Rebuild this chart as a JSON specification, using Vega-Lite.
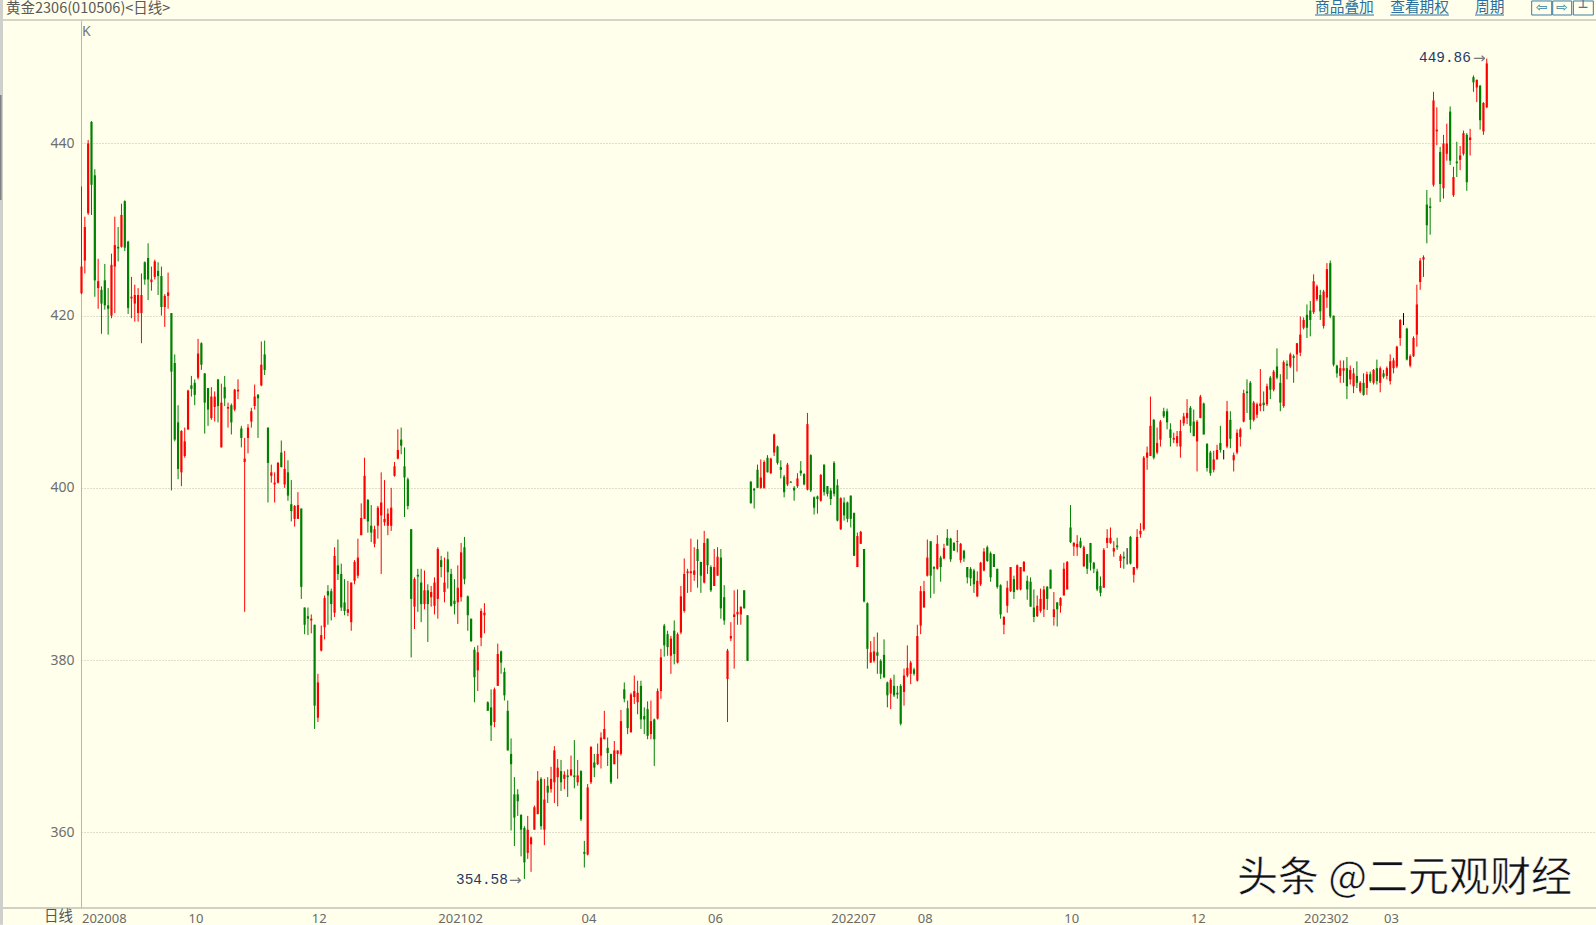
{"$schema":"https://vega.github.io/schema/vega-lite/v6.json","width":1515,"height":888,"autosize":{"type":"none"},"padding":{"left":81,"top":20,"right":0,"bottom":17},"background":"#FFFFEC","config":{"view":{"stroke":null},"scale":{"continuousPadding":0}},
"data":{"values":[
{"i":0,"o":422.6,"h":435,"l":422.5,"c":425.7},{"i":1,"o":426.4,"h":431.5,"l":424.9,"c":430.3},{"i":2,"o":431.9,"h":440.4,"l":431.7,"c":440},{"i":3,"o":442.5,"h":442.6,"l":431.7,"c":435.2},{"i":4,"o":436.3,"h":437,"l":422.2,"c":424.1},{"i":5,"o":423.2,"h":426.6,"l":420.8,"c":424},{"i":6,"o":423,"h":423.4,"l":417.9,"c":421.4},{"i":7,"o":424.1,"h":426,"l":420.7,"c":421.2},{"i":8,"o":421.2,"h":423.2,"l":417.8,"c":420.8},{"i":9,"o":420,"h":427.2,"l":419.7,"c":425.9},
{"i":10,"o":425.7,"h":431.5,"l":420.3,"c":428.2},{"i":11,"o":428,"h":430.3,"l":426.3,"c":427.8},{"i":12,"o":428,"h":433,"l":427.9,"c":431.7},{"i":13,"o":433.3,"h":433.4,"l":427.5,"c":427.9},{"i":14,"o":428.6,"h":428.7,"l":420.2,"c":420.9},{"i":15,"o":422,"h":424.5,"l":419.7,"c":422.2},{"i":16,"o":421.4,"h":423.6,"l":419.3,"c":422.4},{"i":17,"o":420.3,"h":423.2,"l":419.3,"c":422.4},{"i":18,"o":420.3,"h":424.9,"l":416.8,"c":422.4},{"i":19,"o":426.2,"h":426.3,"l":423.6,"c":424.2},
{"i":20,"o":426.7,"h":428.4,"l":421.8,"c":424.2},{"i":21,"o":423.9,"h":425.7,"l":422.9,"c":424.2},{"i":22,"o":424.5,"h":426.5,"l":424.2,"c":426.3},{"i":23,"o":425.2,"h":426.2,"l":422.4,"c":424.6},{"i":24,"o":424.6,"h":425.7,"l":420,"c":421},{"i":25,"o":421,"h":422.5,"l":418.7,"c":422.3},{"i":26,"o":422.3,"h":425,"l":420.8,"c":422.7},{"i":27,"o":420.3,"h":420.3,"l":399.7,"c":413.5},{"i":28,"o":414.5,"h":415.5,"l":405.4,"c":405.6},{"i":29,"o":407.6,"h":409.6,"l":401,"c":402.2},
{"i":30,"o":401.8,"h":406.7,"l":400.2,"c":406.6},{"i":31,"o":403.7,"h":407,"l":403.5,"c":405.4},{"i":32,"o":406.8,"h":411.4,"l":406.7,"c":411.3},{"i":33,"o":411.9,"h":413,"l":410.6,"c":411.5},{"i":34,"o":412.2,"h":412.6,"l":409.6,"c":410.8},{"i":35,"o":412.8,"h":417.3,"l":412.6,"c":415.6},{"i":36,"o":416.8,"h":416.9,"l":413.7,"c":414.3},{"i":37,"o":413.3,"h":413.3,"l":406.3,"c":409.9},{"i":38,"o":411.6,"h":411.6,"l":407.2,"c":409.1},{"i":39,"o":408.1,"h":411.7,"l":407.9,"c":410.6},
{"i":40,"o":409.4,"h":411.2,"l":407.7,"c":410.6},{"i":41,"o":412.6,"h":412.6,"l":407.6,"c":409.5},{"i":42,"o":404.7,"h":412.1,"l":404.7,"c":409.9},{"i":43,"o":411.7,"h":413,"l":409.5,"c":410.4},{"i":44,"o":409.2,"h":409.9,"l":407,"c":409.4},{"i":45,"o":409.6,"h":409.8,"l":406.2,"c":407.6},{"i":46,"o":409.1,"h":411.5,"l":408.9,"c":411.4},{"i":47,"o":411.2,"h":412.6,"l":410.3,"c":411.4},{"i":48,"o":406.9,"h":407.2,"l":404.7,"c":405.8},{"i":49,"o":403,"h":405.8,"l":385.6,"c":403.4},
{"i":50,"o":405.8,"h":407.4,"l":404,"c":407},{"i":51,"o":407.7,"h":409.3,"l":407,"c":408.9},{"i":52,"o":409.5,"h":412,"l":409.1,"c":410.6},{"i":53,"o":410.8,"h":410.9,"l":405.8,"c":410.4},{"i":54,"o":411.9,"h":417,"l":411.8,"c":414.3},{"i":55,"o":415.5,"h":417.1,"l":413.1,"c":413.7},{"i":56,"o":407,"h":407,"l":398.3,"c":402.9},{"i":57,"o":401.4,"h":402.7,"l":400.6,"c":401.8},{"i":58,"o":400.4,"h":401.8,"l":398.3,"c":400.6},{"i":59,"o":400.6,"h":403,"l":400.5,"c":402.9},
{"i":60,"o":404.1,"h":405.5,"l":402.4,"c":402.4},{"i":61,"o":400.4,"h":404.3,"l":400,"c":402.2},{"i":62,"o":401.8,"h":403.2,"l":398.5,"c":399.1},{"i":63,"o":398.1,"h":400.9,"l":396.1,"c":397.3},{"i":64,"o":396.4,"h":398,"l":395.5,"c":397.9},{"i":65,"o":396.4,"h":399.5,"l":396.4,"c":398},{"i":66,"o":397.6,"h":397.6,"l":387.1,"c":388.5},{"i":67,"o":386.1,"h":386.1,"l":383,"c":384.1},{"i":68,"o":385.1,"h":386.1,"l":382.9,"c":384.8},{"i":69,"o":384.6,"h":385.3,"l":383.1,"c":384.8},
{"i":70,"o":384.1,"h":384.1,"l":372,"c":374.7},{"i":71,"o":373.3,"h":378.4,"l":372.8,"c":377.4},{"i":72,"o":381.1,"h":384,"l":381,"c":382.9},{"i":73,"o":383.8,"h":387.5,"l":382.4,"c":387.2},{"i":74,"o":388,"h":388.7,"l":384.1,"c":387.5},{"i":75,"o":388,"h":388.3,"l":384.6,"c":386.5},{"i":76,"o":385.5,"h":393.1,"l":385,"c":392.1},{"i":77,"o":391,"h":394,"l":389.3,"c":390},{"i":78,"o":390,"h":391.2,"l":385.7,"c":386.1},{"i":79,"o":386.7,"h":389.4,"l":385.2,"c":385.7},
{"i":80,"o":385.5,"h":389.2,"l":385.1,"c":385.9},{"i":81,"o":384.4,"h":389,"l":383.4,"c":389},{"i":82,"o":389.2,"h":391.6,"l":388.8,"c":391.4},{"i":83,"o":389.8,"h":394.1,"l":389.5,"c":391.9},{"i":84,"o":394.5,"h":398.2,"l":394.5,"c":396.5},{"i":85,"o":396.4,"h":403.5,"l":396.4,"c":401.4},{"i":86,"o":398.6,"h":398.7,"l":394.8,"c":396.1},{"i":87,"o":395.6,"h":398,"l":393.7,"c":394.8},{"i":88,"o":393.5,"h":395.6,"l":393.1,"c":395.2},{"i":89,"o":395.6,"h":397.9,"l":394.1,"c":397.7},
{"i":90,"o":396.8,"h":401.8,"l":390,"c":398.3},{"i":91,"o":396,"h":400.9,"l":395.6,"c":396.4},{"i":92,"o":395.6,"h":397.6,"l":394.5,"c":397},{"i":93,"o":395.6,"h":400,"l":395,"c":397.7},{"i":94,"o":401.4,"h":403,"l":401.3,"c":402.5},{"i":95,"o":403.4,"h":406.8,"l":403.3,"c":404.4},{"i":96,"o":405.6,"h":407,"l":403.9,"c":404.9},{"i":97,"o":402.5,"h":404.7,"l":396.6,"c":401.2},{"i":98,"o":401,"h":401.2,"l":397.5,"c":397.9},{"i":99,"o":395.2,"h":395.2,"l":380.3,"c":387.1},
{"i":100,"o":386.2,"h":389.6,"l":383.6,"c":389.4},{"i":101,"o":389.9,"h":390.6,"l":385.6,"c":389.7},{"i":102,"o":389,"h":390.6,"l":384.4,"c":386.5},{"i":103,"o":386.5,"h":390.4,"l":385.9,"c":388.1},{"i":104,"o":388.1,"h":388.8,"l":382.1,"c":386.5},{"i":105,"o":387.3,"h":388.6,"l":386.2,"c":387.9},{"i":106,"o":386.3,"h":389.6,"l":385.3,"c":389},{"i":107,"o":387.1,"h":393.1,"l":384.8,"c":392.9},{"i":108,"o":391.6,"h":392.1,"l":389.6,"c":390.8},{"i":109,"o":387.9,"h":391.9,"l":386.7,"c":389},
{"i":110,"o":391.7,"h":392.6,"l":388.3,"c":390.2},{"i":111,"o":390,"h":390.6,"l":386.2,"c":386.3},{"i":112,"o":386.9,"h":389.4,"l":385.3,"c":386.5},{"i":113,"o":386.7,"h":391,"l":384.2,"c":388.4},{"i":114,"o":387.3,"h":393.6,"l":386.8,"c":392.5},{"i":115,"o":393.1,"h":394.3,"l":388.8,"c":389.4},{"i":116,"o":387.4,"h":387.5,"l":383.4,"c":385.2},{"i":117,"o":384.8,"h":384.8,"l":382.1,"c":382.2},{"i":118,"o":381.2,"h":381.5,"l":375.1,"c":378},{"i":119,"o":378.8,"h":381.7,"l":376.4,"c":380.9},
{"i":120,"o":382.6,"h":386,"l":381.6,"c":385.7},{"i":121,"o":385.2,"h":386.6,"l":383.1,"c":385.5},{"i":122,"o":375.1,"h":375.2,"l":374.1,"c":374.1},{"i":123,"o":374.5,"h":376.6,"l":370.6,"c":372.4},{"i":124,"o":372.8,"h":376.8,"l":372.2,"c":376.6},{"i":125,"o":377,"h":381.9,"l":377,"c":380.7},{"i":126,"o":381,"h":381.1,"l":378.4,"c":379.7},{"i":127,"o":378.6,"h":379.1,"l":375.3,"c":375.9},{"i":128,"o":374.1,"h":375.3,"l":369.5,"c":369.5},{"i":129,"o":369.1,"h":370.9,"l":360.2,"c":367.9},
{"i":130,"o":364.4,"h":366.4,"l":358.4,"c":361.7},{"i":131,"o":364.4,"h":365,"l":361.9,"c":363.6},{"i":132,"o":362,"h":362.1,"l":357.2,"c":360.3},{"i":133,"o":360.5,"h":360.7,"l":354.58,"c":356.5},{"i":134,"o":357.6,"h":361.9,"l":356.9,"c":360.3},{"i":135,"o":358.6,"h":359.5,"l":355.4,"c":359.4},{"i":136,"o":360.3,"h":363.1,"l":360.3,"c":362.9},{"i":137,"o":362.1,"h":367.1,"l":362.1,"c":366},{"i":138,"o":366.2,"h":366.4,"l":360.3,"c":360.7},{"i":139,"o":360.3,"h":366.2,"l":358.5,"c":363.8},
{"i":140,"o":365.4,"h":366.4,"l":363.4,"c":364.6},{"i":141,"o":365,"h":367.6,"l":364.6,"c":366.2},{"i":142,"o":365.8,"h":370,"l":363.4,"c":369.5},{"i":143,"o":366.4,"h":368.5,"l":363,"c":367.5},{"i":144,"o":367.1,"h":368.4,"l":364.8,"c":365.8},{"i":145,"o":366.2,"h":367.1,"l":365,"c":366.7},{"i":146,"o":366.6,"h":367.3,"l":364.1,"c":366.4},{"i":147,"o":366.6,"h":368.9,"l":366.5,"c":367.3},{"i":148,"o":366.6,"h":370.7,"l":365.1,"c":366.4},{"i":149,"o":365.8,"h":368.4,"l":365.4,"c":366.6},
{"i":150,"o":367.1,"h":367.2,"l":361.3,"c":361.5},{"i":151,"o":357.7,"h":359,"l":355.9,"c":357.5},{"i":152,"o":357.4,"h":365.6,"l":357.3,"c":365.2},{"i":153,"o":365.8,"h":370,"l":365.6,"c":369.9},{"i":154,"o":368.1,"h":369.1,"l":366.4,"c":367.5},{"i":155,"o":367.9,"h":370.3,"l":367.8,"c":369.1},{"i":156,"o":368.9,"h":371.6,"l":367.4,"c":371},{"i":157,"o":370.8,"h":374.1,"l":370.8,"c":372},{"i":158,"o":369.8,"h":371,"l":367.7,"c":369.2},{"i":159,"o":369.1,"h":369.1,"l":365.6,"c":365.8},
{"i":160,"o":367.9,"h":370.6,"l":367.9,"c":369.5},{"i":161,"o":369.1,"h":369.5,"l":366.2,"c":369.5},{"i":162,"o":369.1,"h":374.2,"l":368.9,"c":372.9},{"i":163,"o":376.6,"h":377.4,"l":375.1,"c":375.5},{"i":164,"o":374.4,"h":375.3,"l":371.4,"c":372.1},{"i":165,"o":371.6,"h":376.2,"l":371.6,"c":376},{"i":166,"o":375.7,"h":378.2,"l":374.9,"c":376.4},{"i":167,"o":375.1,"h":377.6,"l":373.7,"c":376.2},{"i":168,"o":377,"h":377.6,"l":372,"c":373.1},{"i":169,"o":373.5,"h":374.5,"l":371.4,"c":373.1},
{"i":170,"o":374.3,"h":375.2,"l":370.8,"c":371.2},{"i":171,"o":371.4,"h":375.3,"l":370.8,"c":372.9},{"i":172,"o":373.1,"h":373.2,"l":367.7,"c":370.8},{"i":173,"o":373.2,"h":376.7,"l":373.1,"c":376.4},{"i":174,"o":376.4,"h":381.3,"l":375.5,"c":380.3},{"i":175,"o":384,"h":384.2,"l":380.4,"c":381.7},{"i":176,"o":383,"h":383.4,"l":380.5,"c":381.5},{"i":177,"o":380.5,"h":382.8,"l":378.4,"c":382.5},{"i":178,"o":383.4,"h":384.6,"l":379.5,"c":380.7},{"i":179,"o":379.7,"h":383.2,"l":379.6,"c":383},
{"i":180,"o":383.2,"h":388.6,"l":383,"c":387.4},{"i":181,"o":385.7,"h":391.8,"l":385.5,"c":390},{"i":182,"o":390.1,"h":390.6,"l":387.8,"c":390.3},{"i":183,"o":390.1,"h":394.1,"l":387.9,"c":390.3},{"i":184,"o":389.9,"h":393.1,"l":389.2,"c":390.4},{"i":185,"o":392.9,"h":394,"l":388.4,"c":391.5},{"i":186,"o":391.4,"h":391.4,"l":387.8,"c":389.8},{"i":187,"o":389,"h":395,"l":388.9,"c":393.6},{"i":188,"o":394.1,"h":394.1,"l":390,"c":391},{"i":189,"o":390.8,"h":391,"l":387.9,"c":388.1},
{"i":190,"o":388.6,"h":392.9,"l":388.6,"c":390.8},{"i":191,"o":389.8,"h":393.1,"l":389.8,"c":392},{"i":192,"o":391.9,"h":392.9,"l":384.8,"c":386},{"i":193,"o":387.3,"h":388.7,"l":384.1,"c":384.6},{"i":194,"o":377.8,"h":381.3,"l":372.8,"c":381.1},{"i":195,"o":382.5,"h":384.4,"l":382.2,"c":382.8},{"i":196,"o":385,"h":388.1,"l":379,"c":385.3},{"i":197,"o":385.3,"h":388.2,"l":384.1,"c":385.6},{"i":198,"o":385.3,"h":386.2,"l":384.1,"c":386.2},{"i":199,"o":388.1,"h":388.1,"l":386,"c":386},
{"i":200,"o":385.2,"h":385.2,"l":379.9,"c":379.9},{"i":201,"o":400.7,"h":400.8,"l":398.2,"c":398.2},{"i":202,"o":399.9,"h":400,"l":397.6,"c":399.7},{"i":203,"o":402.1,"h":402.7,"l":400,"c":400},{"i":204,"o":400,"h":403.3,"l":399.9,"c":401.2},{"i":205,"o":400,"h":403.2,"l":399.9,"c":403},{"i":206,"o":403.5,"h":403.8,"l":401.8,"c":401.8},{"i":207,"o":401.7,"h":403.5,"l":401.6,"c":403.4},{"i":208,"o":404.1,"h":406.3,"l":403.7,"c":406.2},{"i":209,"o":404.8,"h":404.9,"l":402.7,"c":402.9},
{"i":210,"o":402.4,"h":403.2,"l":401.1,"c":402.1},{"i":211,"o":401.3,"h":401.5,"l":398.9,"c":399.5},{"i":212,"o":400.4,"h":402.9,"l":400.2,"c":402.7},{"i":213,"o":400.7,"h":400.8,"l":400.6,"c":400.6},{"i":214,"o":400,"h":400.2,"l":398.5,"c":399.7},{"i":215,"o":400.2,"h":401.7,"l":400,"c":401.1},{"i":216,"o":402,"h":403.1,"l":401.4,"c":401.7},{"i":217,"o":401.6,"h":401.7,"l":400.3,"c":400.4},{"i":218,"o":399.8,"h":408.7,"l":399.7,"c":407.4},{"i":219,"o":403.8,"h":403.9,"l":399.5,"c":399.7},
{"i":220,"o":398.9,"h":399,"l":396.9,"c":397.7},{"i":221,"o":399,"h":399.1,"l":397,"c":398.7},{"i":222,"o":398.5,"h":401.6,"l":398.4,"c":401.5},{"i":223,"o":402.7,"h":402.7,"l":399.1,"c":399.5},{"i":224,"o":400.2,"h":400.2,"l":399,"c":399.3},{"i":225,"o":399.7,"h":400,"l":398,"c":398.7},{"i":226,"o":402.9,"h":403.1,"l":399,"c":399.3},{"i":227,"o":400.3,"h":401,"l":396.1,"c":396.2},{"i":228,"o":395.2,"h":398.9,"l":395.1,"c":398.8},{"i":229,"o":398.3,"h":398.9,"l":396.2,"c":396.8},
{"i":230,"o":398.3,"h":398.4,"l":396,"c":396.4},{"i":231,"o":399.1,"h":399.1,"l":395.4,"c":396.4},{"i":232,"o":397.1,"h":397.1,"l":392.1,"c":392.1},{"i":233,"o":390.8,"h":394.8,"l":390.8,"c":394.4},{"i":234,"o":393.5,"h":395,"l":393.5,"c":394.9},{"i":235,"o":392.9,"h":392.9,"l":386.7,"c":386.8},{"i":236,"o":386.6,"h":386.7,"l":379,"c":381.3},{"i":237,"o":379.7,"h":382.2,"l":379.7,"c":380.9},{"i":238,"o":379.9,"h":382.7,"l":379.7,"c":381},{"i":239,"o":380.9,"h":383.2,"l":378.4,"c":380.5},
{"i":240,"o":379.9,"h":380.1,"l":377.8,"c":378.4},{"i":241,"o":380.6,"h":382.4,"l":377.9,"c":378},{"i":242,"o":377.4,"h":377.5,"l":374.5,"c":375.9},{"i":243,"o":376.1,"h":377.9,"l":374.3,"c":377.7},{"i":244,"o":377,"h":378.3,"l":375.7,"c":375.9},{"i":245,"o":376.2,"h":377,"l":375.5,"c":376},{"i":246,"o":377,"h":377.2,"l":372.4,"c":372.6},{"i":247,"o":376.3,"h":379,"l":374.7,"c":378.2},{"i":248,"o":378.2,"h":381.7,"l":378,"c":379.1},{"i":249,"o":378.4,"h":379.9,"l":377.2,"c":379.7},
{"i":250,"o":378.9,"h":379.1,"l":378.2,"c":378.4},{"i":251,"o":377.6,"h":384.1,"l":377.5,"c":382.8},{"i":252,"o":384,"h":388.6,"l":383,"c":388},{"i":253,"o":386.1,"h":389.2,"l":386.1,"c":388},{"i":254,"o":389.8,"h":394,"l":389.7,"c":391.9},{"i":255,"o":393.8,"h":393.8,"l":387.2,"c":389.8},{"i":256,"o":390.8,"h":390.9,"l":387.7,"c":390.6},{"i":257,"o":390.6,"h":394.5,"l":390.5,"c":393.5},{"i":258,"o":391.9,"h":392.1,"l":389.1,"c":390.8},{"i":259,"o":391.8,"h":393.5,"l":391.7,"c":393},
{"i":260,"o":394.2,"h":395.2,"l":393.3,"c":393.3},{"i":261,"o":394.1,"h":394.2,"l":391.4,"c":391.7},{"i":262,"o":393.6,"h":393.7,"l":392.7,"c":392.7},{"i":263,"o":393.7,"h":395.1,"l":392.5,"c":393.8},{"i":264,"o":391.6,"h":393.6,"l":391.3,"c":393.5},{"i":265,"o":392.7,"h":392.8,"l":391.4,"c":391.8},{"i":266,"o":390.8,"h":390.8,"l":388.9,"c":389.6},{"i":267,"o":390.6,"h":390.8,"l":388.6,"c":389.5},{"i":268,"o":390.4,"h":390.6,"l":387.8,"c":388.8},{"i":269,"o":387.4,"h":390.3,"l":387.3,"c":389.2},
{"i":270,"o":388.8,"h":391.4,"l":388.6,"c":391.3},{"i":271,"o":390.4,"h":393,"l":390.3,"c":392.6},{"i":272,"o":393.1,"h":393.3,"l":391.4,"c":391.5},{"i":273,"o":392.4,"h":392.6,"l":389.1,"c":389.6},{"i":274,"o":392.3,"h":392.3,"l":390.8,"c":390.8},{"i":275,"o":390.6,"h":390.6,"l":388.3,"c":388.5},{"i":276,"o":388.7,"h":388.8,"l":384.8,"c":385.3},{"i":277,"o":384.1,"h":385.1,"l":383,"c":385},{"i":278,"o":386.3,"h":389.2,"l":385.5,"c":388.4},{"i":279,"o":388,"h":390.8,"l":387.9,"c":390.8},
{"i":280,"o":389.4,"h":389.8,"l":387.1,"c":387.9},{"i":281,"o":388.2,"h":391.1,"l":388.1,"c":391},{"i":282,"o":388.2,"h":390.8,"l":388.1,"c":390.8},{"i":283,"o":390.3,"h":391.5,"l":390.3,"c":391.4},{"i":284,"o":389.2,"h":389.8,"l":387,"c":388.2},{"i":285,"o":389.1,"h":389.6,"l":386.2,"c":386.2},{"i":286,"o":386.1,"h":388.2,"l":384.4,"c":385},{"i":287,"o":385.1,"h":387.5,"l":385,"c":386.3},{"i":288,"o":385.7,"h":388.3,"l":385.5,"c":387.1},{"i":289,"o":385.9,"h":388.6,"l":385,"c":388.2},
{"i":290,"o":388.5,"h":388.6,"l":385.8,"c":387.1},{"i":291,"o":390.5,"h":390.5,"l":388.3,"c":388.3},{"i":292,"o":385,"h":387.9,"l":384,"c":385.9},{"i":293,"o":386.7,"h":386.7,"l":383.9,"c":385.9},{"i":294,"o":386.3,"h":387.3,"l":385.5,"c":387.2},{"i":295,"o":387.5,"h":391.3,"l":387.5,"c":390.6},{"i":296,"o":388.2,"h":391.5,"l":388.2,"c":391.4},{"i":297,"o":395.4,"h":398,"l":393.6,"c":393.7},{"i":298,"o":393.2,"h":393.7,"l":392.1,"c":393.6},{"i":299,"o":393.1,"h":394.5,"l":392.1,"c":393.5},
{"i":300,"o":393.8,"h":394.2,"l":393,"c":393.1},{"i":301,"o":390.9,"h":393.3,"l":390.8,"c":393.1},{"i":302,"o":392.3,"h":392.3,"l":390,"c":390.6},{"i":303,"o":393.6,"h":393.6,"l":390.4,"c":391.3},{"i":304,"o":391.3,"h":391.4,"l":390.1,"c":390.6},{"i":305,"o":390.3,"h":390.6,"l":388,"c":388.2},{"i":306,"o":388.6,"h":389.7,"l":387.4,"c":387.8},{"i":307,"o":388.4,"h":393,"l":388.4,"c":392.8},{"i":308,"o":393.6,"h":395.2,"l":393,"c":394.2},{"i":309,"o":393.6,"h":395.4,"l":393.5,"c":394.2},
{"i":310,"o":392.6,"h":393.8,"l":392,"c":393},{"i":311,"o":393.3,"h":394.2,"l":392.8,"c":393.1},{"i":312,"o":391.5,"h":392.3,"l":390.7,"c":392.1},{"i":313,"o":392,"h":392.6,"l":390.6,"c":391.8},{"i":314,"o":392.4,"h":393,"l":391.1,"c":392.4},{"i":315,"o":394.3,"h":394.4,"l":391.1,"c":391.2},{"i":316,"o":389.9,"h":390.8,"l":389,"c":390.8},{"i":317,"o":390.7,"h":395.2,"l":390.5,"c":394.3},{"i":318,"o":394.6,"h":395.9,"l":394.2,"c":395},{"i":319,"o":395.2,"h":403.7,"l":395,"c":403.5},
{"i":320,"o":403.5,"h":404.8,"l":402.1,"c":404.1},{"i":321,"o":403.7,"h":410.6,"l":403.7,"c":407.2},{"i":322,"o":407.9,"h":408,"l":403.3,"c":403.5},{"i":323,"o":404.1,"h":407,"l":403.9,"c":405.2},{"i":324,"o":405.6,"h":407.9,"l":404.8,"c":407.7},{"i":325,"o":408.9,"h":409.3,"l":408.1,"c":408.3},{"i":326,"o":408.9,"h":409.2,"l":406.8,"c":407.6},{"i":327,"o":406.8,"h":407.5,"l":404.8,"c":405.8},{"i":328,"o":405.6,"h":406.4,"l":405.2,"c":405.8},{"i":329,"o":405.2,"h":406.6,"l":404.8,"c":406},
{"i":330,"o":404.8,"h":407.9,"l":403.5,"c":406.6},{"i":331,"o":407.5,"h":408.7,"l":407.2,"c":408.3},{"i":332,"o":408.1,"h":410.3,"l":407.4,"c":408.7},{"i":333,"o":409.3,"h":409.5,"l":406.4,"c":407.2},{"i":334,"o":407.7,"h":409.1,"l":406,"c":406},{"i":335,"o":405.4,"h":407.9,"l":401.9,"c":407.7},{"i":336,"o":408.1,"h":410.8,"l":408.1,"c":410.6},{"i":337,"o":409.8,"h":409.9,"l":406.2,"c":406.2},{"i":338,"o":405.1,"h":405.2,"l":401.9,"c":402.3},{"i":339,"o":404.1,"h":404.3,"l":401.4,"c":401.7},
{"i":340,"o":402.1,"h":404.3,"l":401.8,"c":403.3},{"i":341,"o":403.3,"h":405,"l":403.3,"c":404.4},{"i":342,"o":405.2,"h":407.2,"l":404.1,"c":404.4},{"i":343,"o":403.9,"h":404.4,"l":403.3,"c":403.9},{"i":344,"o":404.8,"h":410.1,"l":404.6,"c":408.9},{"i":345,"o":407.9,"h":408.9,"l":404.6,"c":405.7},{"i":346,"o":403.2,"h":404.1,"l":401.9,"c":403.8},{"i":347,"o":404.1,"h":406.8,"l":403.9,"c":406.4},{"i":348,"o":405.9,"h":407,"l":404.8,"c":406.8},{"i":349,"o":407.7,"h":411.4,"l":407.6,"c":411},
{"i":350,"o":411.2,"h":412.6,"l":408.7,"c":411},{"i":351,"o":412.2,"h":412.4,"l":406.8,"c":407.9},{"i":352,"o":407.9,"h":410.1,"l":407.7,"c":409.9},{"i":353,"o":408.5,"h":409.9,"l":408.1,"c":409.7},{"i":354,"o":409.5,"h":413.8,"l":408.9,"c":409.8},{"i":355,"o":409.9,"h":411.2,"l":408.9,"c":409.6},{"i":356,"o":409.7,"h":412.1,"l":409.5,"c":411.8},{"i":357,"o":412.8,"h":413,"l":410.3,"c":411.4},{"i":358,"o":411.4,"h":413.7,"l":411.2,"c":413.5},{"i":359,"o":414.1,"h":416.2,"l":412.6,"c":412.8},
{"i":360,"o":412.2,"h":413.2,"l":408.9,"c":409.9},{"i":361,"o":409.5,"h":414.8,"l":409.3,"c":414.6},{"i":362,"o":414.4,"h":414.8,"l":412.6,"c":414.2},{"i":363,"o":414.1,"h":415.7,"l":413.9,"c":415.5},{"i":364,"o":415.3,"h":415.5,"l":412.2,"c":415.1},{"i":365,"o":415.5,"h":416.8,"l":413.5,"c":416.8},{"i":366,"o":415.7,"h":419.9,"l":415.3,"c":417.8},{"i":367,"o":418.6,"h":419.8,"l":418.4,"c":419.5},{"i":368,"o":420.1,"h":421.3,"l":417.4,"c":418.6},{"i":369,"o":420.6,"h":421.7,"l":417.6,"c":419.5},
{"i":370,"o":420.4,"h":424.8,"l":420.2,"c":424},{"i":371,"o":421.9,"h":423.6,"l":421.7,"c":423.4},{"i":372,"o":422.4,"h":423,"l":419.5,"c":420.5},{"i":373,"o":418.8,"h":423,"l":418.5,"c":422.8},{"i":374,"o":422.1,"h":426.1,"l":420.9,"c":425.4},{"i":375,"o":426.1,"h":426.4,"l":419.7,"c":419.9},{"i":376,"o":420,"h":420,"l":414.1,"c":414.3},{"i":377,"o":414.2,"h":414.3,"l":412.8,"c":413.3},{"i":378,"o":413,"h":414.8,"l":412.2,"c":413.9},{"i":379,"o":413.6,"h":414.8,"l":412.2,"c":413.9},
{"i":380,"o":413.9,"h":415.2,"l":410.3,"c":411.8},{"i":381,"o":412.6,"h":414.2,"l":412,"c":413.7},{"i":382,"o":411.8,"h":413.9,"l":411,"c":413.3},{"i":383,"o":413,"h":414.7,"l":411.6,"c":412.2},{"i":384,"o":411.2,"h":412.4,"l":411,"c":412.2},{"i":385,"o":412.2,"h":413.3,"l":410.7,"c":410.8},{"i":386,"o":411.6,"h":413.5,"l":410.8,"c":413.2},{"i":387,"o":413.2,"h":413.5,"l":412.2,"c":412.4},{"i":388,"o":412.2,"h":413.8,"l":412,"c":413.7},{"i":389,"o":413.9,"h":414.9,"l":412,"c":412.4},
{"i":390,"o":412.2,"h":414.1,"l":411.1,"c":413.9},{"i":391,"o":413.3,"h":413.7,"l":412.7,"c":412.9},{"i":392,"o":413,"h":414.1,"l":412.6,"c":413.9},{"i":393,"o":412.4,"h":415.5,"l":412,"c":414.7},{"i":394,"o":413.9,"h":415.1,"l":413.3,"c":414.8},{"i":395,"o":414.1,"h":416.5,"l":413.9,"c":416.4},{"i":396,"o":417.4,"h":419.6,"l":416.5,"c":419.5},{"i":397,"o":419.5,"h":420.3,"l":418.9,"c":419.5},{"i":398,"o":418.5,"h":418.6,"l":414.8,"c":414.9},{"i":399,"o":414.2,"h":415.5,"l":414,"c":415.3},
{"i":400,"o":415.3,"h":417.6,"l":415.2,"c":417.4},{"i":401,"o":417.8,"h":423.6,"l":416.4,"c":421.3},{"i":402,"o":423.9,"h":426.7,"l":423,"c":426.4},{"i":403,"o":426.5,"h":427,"l":424.5,"c":426.8},{"i":404,"o":432.9,"h":434.6,"l":428.4,"c":430.5},{"i":405,"o":432.7,"h":433.7,"l":429.4,"c":432.5},{"i":406,"o":435.2,"h":446,"l":435,"c":445},{"i":407,"o":441.4,"h":444.2,"l":439.8,"c":441.6},{"i":408,"o":439,"h":439.6,"l":433.2,"c":435.3},{"i":409,"o":434.8,"h":441,"l":433.6,"c":440},
{"i":410,"o":438.8,"h":442.3,"l":438,"c":440},{"i":411,"o":443.7,"h":444.3,"l":437.5,"c":438},{"i":412,"o":434,"h":437.3,"l":433.8,"c":436.1},{"i":413,"o":437.9,"h":440.2,"l":436.1,"c":437.7},{"i":414,"o":438.1,"h":439.7,"l":436.9,"c":438.6},{"i":415,"o":438.8,"h":441.5,"l":438.6,"c":441.2},{"i":416,"o":441,"h":441.2,"l":434.5,"c":435.5},{"i":417,"o":440.4,"h":441.7,"l":438.6,"c":440.7},{"i":418,"o":447.7,"h":447.9,"l":446,"c":447.1},{"i":419,"o":446.5,"h":447.4,"l":444.8,"c":447.4},
{"i":420,"o":446.7,"h":446.8,"l":441.6,"c":442.7},{"i":421,"o":441.4,"h":444.8,"l":441,"c":444.7},{"i":422,"o":444.2,"h":449.86,"l":444.1,"c":449.3}
]},
"layer":[
{"mark":{"type":"rule","strokeWidth":1},"encoding":{"x":{"field":"i","type":"quantitative","scale":{"domain":[-0.15,454.8]},"axis":{"title":null,"values":[0,32,69,107,150,188,225,251,295,333,367,391],"labelExpr":"{'0':'202008','32':'10','69':'12','107':'202102','150':'04','188':'06','225':'202207','251':'08','295':'10','333':'12','367':'202302','391':'03'}[datum.value]","labelAlign":"left","labelBaseline":"top","labelPadding":4,"labelOverlap":false,"labelBound":false,"labelFlush":false,"ticks":false,"domain":false,"grid":false,"labelFont":"Noto Sans","labelFontSize":13,"labelColor":"#6a6a6a"}},"y":{"field":"h","type":"quantitative","scale":{"domain":[351.2,454.34]},"axis":{"title":null,"values":[360,380,400,420,440],"labelFont":"Noto Sans","labelFontSize":14,"labelColor":"#6e6e6e","labelPadding":7,"ticks":false,"domain":true,"domainColor":"#b6b6ae","domainWidth":1,"grid":true,"gridColor":"#bdbdaa","gridDash":[1,2],"gridWidth":1}},"y2":{"field":"l"},"color":{"condition":[{"test":"datum.c>datum.o","value":"#ff0000"},{"test":"datum.c<datum.o","value":"#008000"}],"value":"#000000"}}},
{"mark":{"type":"bar","size":2.2},"encoding":{"x":{"field":"i","type":"quantitative","scale":{"domain":[-0.15,454.8]}},"y":{"field":"o","type":"quantitative","scale":{"domain":[351.2,454.34]}},"y2":{"field":"c"},"color":{"condition":[{"test":"datum.c>datum.o","value":"#ff0000"},{"test":"datum.c<datum.o","value":"#008000"}],"value":"#000000"}}},
{"data":{"values":[{}]},"mark":{"type":"rule","color":"#c6c6be","strokeWidth":1.5},"encoding":{"x":{"datum":-23.57,"scale":{"domain":[-0.15,454.8]}},"x2":{"datum":454.8},"y":{"datum":454.34,"scale":{"domain":[351.2,454.34]}}}},
{"data":{"values":[{}]},"mark":{"type":"rule","color":"#c0c0b8","strokeWidth":1.5},"encoding":{"x":{"datum":-23.57,"scale":{"domain":[-0.15,454.8]}},"x2":{"datum":454.8},"y":{"datum":351.2,"scale":{"domain":[351.2,454.34]}}}},
{"data":{"values":[{}]},"mark":{"type":"rect","color":"#cfcfcb"},"encoding":{"x":{"datum":-24.47,"scale":{"domain":[-0.15,454.8]}},"x2":{"datum":-23.57},"y":{"datum":456.67,"scale":{"domain":[351.2,454.34]}},"y2":{"datum":349.24}}},
{"data":{"values":[{}]},"mark":{"type":"rect","color":"#808080"},"encoding":{"x":{"datum":-24.47,"scale":{"domain":[-0.15,454.8]}},"x2":{"datum":-24.0},"y":{"datum":445.63,"scale":{"domain":[351.2,454.34]}},"y2":{"datum":433.44}}},
{"data":{"values":[{"t":"黄金2306(010506)<日线>"}]},"mark":{"type":"text","align":"left","baseline":"middle","font":"Noto Sans CJK SC","fontSize":14.5,"color":"#5a5a5a"},"encoding":{"x":{"datum":-22.67,"scale":{"domain":[-0.15,454.8]}},"y":{"datum":455.62,"scale":{"domain":[351.2,454.34]}},"text":{"field":"t"}}},
{"data":{"values":[{"t":"K"}]},"mark":{"type":"text","align":"left","baseline":"middle","font":"Noto Sans","fontSize":14,"color":"#777777"},"encoding":{"x":{"datum":0.15,"scale":{"domain":[-0.15,454.8]}},"y":{"datum":452.95,"scale":{"domain":[351.2,454.34]}},"text":{"field":"t"}}},
{"data":{"values":[{"t":"商品叠加"}]},"mark":{"type":"text","align":"left","baseline":"middle","font":"Noto Sans CJK SC","fontSize":14.7,"color":"#2b6f9e"},"encoding":{"x":{"datum":370.42,"scale":{"domain":[-0.15,454.8]}},"y":{"datum":455.68,"scale":{"domain":[351.2,454.34]}},"text":{"field":"t"}}},
{"data":{"values":[{"t":"查看期权"}]},"mark":{"type":"text","align":"left","baseline":"middle","font":"Noto Sans CJK SC","fontSize":14.7,"color":"#2b6f9e"},"encoding":{"x":{"datum":393,"scale":{"domain":[-0.15,454.8]}},"y":{"datum":455.68,"scale":{"domain":[351.2,454.34]}},"text":{"field":"t"}}},
{"data":{"values":[{"t":"周期"}]},"mark":{"type":"text","align":"left","baseline":"middle","font":"Noto Sans CJK SC","fontSize":14.7,"color":"#2b6f9e"},"encoding":{"x":{"datum":418.48,"scale":{"domain":[-0.15,454.8]}},"y":{"datum":455.68,"scale":{"domain":[351.2,454.34]}},"text":{"field":"t"}}},
{"data":{"values":[{}]},"mark":{"type":"rule","color":"#2b6f9e","strokeWidth":1},"encoding":{"x":{"datum":370.42,"scale":{"domain":[-0.15,454.8]}},"x2":{"datum":388.14},"y":{"datum":454.92,"scale":{"domain":[351.2,454.34]}}}},
{"data":{"values":[{}]},"mark":{"type":"rule","color":"#2b6f9e","strokeWidth":1},"encoding":{"x":{"datum":393,"scale":{"domain":[-0.15,454.8]}},"x2":{"datum":410.65},"y":{"datum":454.92,"scale":{"domain":[351.2,454.34]}}}},
{"data":{"values":[{}]},"mark":{"type":"rule","color":"#2b6f9e","strokeWidth":1},"encoding":{"x":{"datum":418.48,"scale":{"domain":[-0.15,454.8]}},"x2":{"datum":427.19},"y":{"datum":454.92,"scale":{"domain":[351.2,454.34]}}}},
{"data":{"values":[{}]},"mark":{"type":"rect","fillOpacity":0,"stroke":"#3a7ca5","strokeWidth":1},"encoding":{"x":{"datum":435.49,"scale":{"domain":[-0.15,454.8]}},"x2":{"datum":441.5},"y":{"datum":456.55,"scale":{"domain":[351.2,454.34]}},"y2":{"datum":454.92}}},
{"data":{"values":[{}]},"mark":{"type":"rect","fillOpacity":0,"stroke":"#3a7ca5","strokeWidth":1},"encoding":{"x":{"datum":441.8,"scale":{"domain":[-0.15,454.8]}},"x2":{"datum":447.5},"y":{"datum":456.55,"scale":{"domain":[351.2,454.34]}},"y2":{"datum":454.92}}},
{"data":{"values":[{}]},"mark":{"type":"rect","fillOpacity":0,"stroke":"#3a7ca5","strokeWidth":1},"encoding":{"x":{"datum":448,"scale":{"domain":[-0.15,454.8]}},"x2":{"datum":454},"y":{"datum":456.55,"scale":{"domain":[351.2,454.34]}},"y2":{"datum":454.92}}},
{"data":{"values":[{"t":"⇦"}]},"mark":{"type":"text","align":"center","baseline":"middle","font":"DejaVu Sans","fontSize":14,"color":"#3a7ca5"},"encoding":{"x":{"datum":438.5,"scale":{"domain":[-0.15,454.8]}},"y":{"datum":455.74,"scale":{"domain":[351.2,454.34]}},"text":{"field":"t"}}},
{"data":{"values":[{"t":"⇨"}]},"mark":{"type":"text","align":"center","baseline":"middle","font":"DejaVu Sans","fontSize":14,"color":"#3a7ca5"},"encoding":{"x":{"datum":444.59,"scale":{"domain":[-0.15,454.8]}},"y":{"datum":455.74,"scale":{"domain":[351.2,454.34]}},"text":{"field":"t"}}},
{"data":{"values":[{"t":"┴"}]},"mark":{"type":"text","align":"center","baseline":"middle","font":"DejaVu Sans Mono","fontSize":14,"color":"#3a7ca5"},"encoding":{"x":{"datum":450.9,"scale":{"domain":[-0.15,454.8]}},"y":{"datum":455.74,"scale":{"domain":[351.2,454.34]}},"text":{"field":"t"}}},
{"data":{"values":[{"t":"449.86"}]},"mark":{"type":"text","align":"left","baseline":"middle","font":"Liberation Mono","fontSize":14.4,"color":"#1f3a6a"},"encoding":{"x":{"datum":401.65,"scale":{"domain":[-0.15,454.8]}},"y":{"datum":449.93,"scale":{"domain":[351.2,454.34]}},"text":{"field":"t"}}},
{"data":{"values":[{"t":"→"}]},"mark":{"type":"text","align":"left","baseline":"middle","font":"DejaVu Sans","fontSize":15,"color":"#777777"},"encoding":{"x":{"datum":417.87,"scale":{"domain":[-0.15,454.8]}},"y":{"datum":449.93,"scale":{"domain":[351.2,454.34]}},"text":{"field":"t"}}},
{"data":{"values":[{"t":"354.58"}]},"mark":{"type":"text","align":"left","baseline":"middle","font":"Liberation Mono","fontSize":14.4,"color":"#1f3a6a"},"encoding":{"x":{"datum":112.46,"scale":{"domain":[-0.15,454.8]}},"y":{"datum":354.46,"scale":{"domain":[351.2,454.34]}},"text":{"field":"t"}}},
{"data":{"values":[{"t":"→"}]},"mark":{"type":"text","align":"left","baseline":"middle","font":"DejaVu Sans","fontSize":15,"color":"#777777"},"encoding":{"x":{"datum":128.38,"scale":{"domain":[-0.15,454.8]}},"y":{"datum":354.46,"scale":{"domain":[351.2,454.34]}},"text":{"field":"t"}}},
{"data":{"values":[{"t":"日线"}]},"mark":{"type":"text","align":"left","baseline":"middle","font":"Noto Sans CJK SC","fontSize":14.5,"color":"#555555"},"encoding":{"x":{"datum":-11.26,"scale":{"domain":[-0.15,454.8]}},"y":{"datum":350.16,"scale":{"domain":[351.2,454.34]}},"text":{"field":"t"}}},
{"data":{"values":[{"t":"头条 @二元观财经"}]},"mark":{"type":"text","align":"left","baseline":"middle","font":"Noto Sans CJK SC","fontSize":41,"color":"#ffffff","dx":2,"dy":2},"encoding":{"x":{"datum":347,"scale":{"domain":[-0.15,454.8]}},"y":{"datum":354.55,"scale":{"domain":[351.2,454.34]}},"text":{"field":"t"}}},
{"data":{"values":[{"t":"头条 @二元观财经"}]},"mark":{"type":"text","align":"left","baseline":"middle","font":"Noto Sans CJK SC","fontSize":41,"color":"#111111","stroke":"#ffffff","strokeWidth":0.5},"encoding":{"x":{"datum":347,"scale":{"domain":[-0.15,454.8]}},"y":{"datum":354.55,"scale":{"domain":[351.2,454.34]}},"text":{"field":"t"}}}
]}
